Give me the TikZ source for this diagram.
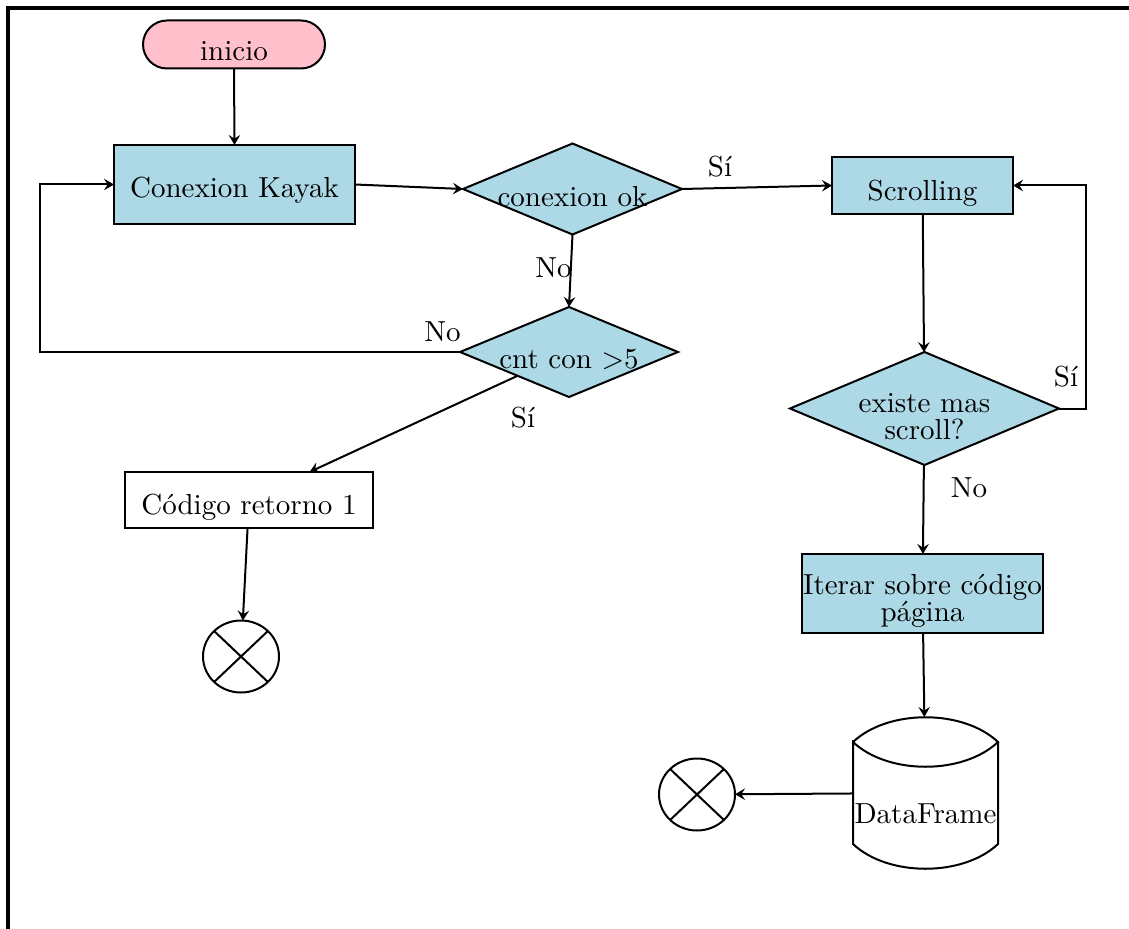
\documentclass[tikz,border=0pt]{standalone}
\usetikzlibrary{shapes.geometric,shapes.misc,calc,arrows.meta}
% one drawing unit = one pixel of the layout grid
\newlength\unitpx
\setlength\unitpx{0.35pt}
% text placed with its baseline a given number of units below the node centre
\newcommand\lowered[2]{\raisebox{-#1\unitpx}[0pt][0pt]{#2}}
% same, but taking no width, so the outline keeps its own size
\newcommand\loweredfree[2]{\makebox[0pt]{\lowered{#1}{#2}}}
\newcommand\twolines[2]{\begin{tabular}[b]{@{}c@{}}#1\\[-2.4pt]#2\end{tabular}}
\definecolor{startpink}{HTML}{FFC0CB}
\definecolor{procblue}{HTML}{ADD8E6}
\begin{document}
\begin{tikzpicture}[x=0.35pt,y=-0.35pt,
  every node/.style={inner sep=0pt, outer sep=0pt, font=\fontsize{10.15}{12}\selectfont},
  line/.style={line width=0.7pt},
  arr/.style={line, -{Stealth[length=3.5pt, width=4pt, inset=1.3pt]}},
  term/.style={rounded rectangle, draw, line, fill=startpink},
  proc/.style={rectangle, draw, line, fill=procblue},
  plainbox/.style={rectangle, draw, line, fill=white},
  decision/.style={diamond, draw, line, fill=procblue},
  endmark/.style={ellipse, draw, line, minimum width=76\unitpx, minimum height=72\unitpx,
    path picture={\draw[line]
      (path picture bounding box.north west) -- (path picture bounding box.south east)
      (path picture bounding box.north east) -- (path picture bounding box.south west);}},
  lbl/.style={anchor=base},
]
\useasboundingbox (0,0) rectangle (1129,929);

% outer frame
\draw[line width=4\unitpx] (8,940) -- (8,8) -- (1140,8);

% nodes
\node[term, minimum width=182\unitpx, minimum height=48\unitpx] (ini) at (234,44.5) {\lowered{16.5}{inicio}};
\node[proc, minimum width=241\unitpx, minimum height=79\unitpx] (ck) at (234.5,184.5) {\lowered{13.5}{Conexion Kayak}};
\node[decision, minimum width=219\unitpx, minimum height=91\unitpx] (d1) at (572.5,189) {\loweredfree{17}{conexion ok}};
\node[decision, minimum width=218\unitpx, minimum height=90\unitpx] (d2) at (569,352) {\loweredfree{16}{cnt con >5}};
\node[proc, minimum width=181\unitpx, minimum height=57\unitpx] (scr) at (922.5,185.5) {\lowered{15.5}{Scrolling}};
\node[decision, minimum width=269\unitpx, minimum height=113\unitpx] (d3) at (924.5,408.5) {\loweredfree{31}{\twolines{existe mas}{scroll?}}};
\node[plainbox, minimum width=248\unitpx, minimum height=56\unitpx] (cr) at (249,500) {\lowered{14}{Código retorno 1}};
\node[proc, minimum width=241\unitpx, minimum height=79\unitpx] (it) at (922.5,593.5) {\lowered{28}{\twolines{Iterar sobre código}{página}}};
\node[endmark] (e1) at (241,656.5) {};
\node[endmark] (e2) at (697,794.5) {};
\node[minimum width=145\unitpx, minimum height=152\unitpx] (df) at (925.5,793) {\lowered{30}{DataFrame}};

% stored-data outline around the DataFrame node
\coordinate (dfTL) at ($(df.north west)+(0,25)$);
\coordinate (dfTR) at ($(df.north east)+(0,25)$);
\coordinate (dfBL) at ($(df.south west)+(0,-25)$);
\coordinate (dfBR) at ($(df.south east)+(0,-25)$);
\draw[line] (dfTL) .. controls +(35,-33) and +(-35,-33) .. (dfTR)
  .. controls +(-35,33) and +(35,33) .. (dfTL) -- (dfBL)
  .. controls +(35,33) and +(-35,33) .. (dfBR) -- (dfTR);

% loop-back corners
\coordinate (loopL) at (40,270);
\coordinate (loopR) at (1086,300);

% connectors
\draw[arr] (ini.south) -- (ck.north);
\draw[arr] (ck.east) -- (d1.west);
\draw[arr] (d1.east) -- (scr.west);
\draw[arr] (d1.south) -- (d2.north);
\draw[arr] (d2.west) -| (loopL) |- (ck.west);
\draw[arr] (d2) -- (cr);
\draw[arr] (cr) -- (e1);
\draw[arr] (scr) -- (d3);
\draw[arr] (d3.east) -| (loopR) |- (scr.east);
\draw[arr] (d3) -- (it);
\draw[arr] (it) -- (df);
\draw[arr] (df) -- (e2);

% branch labels
\node[lbl] (l1) at (720,177) {Sí};
\node[lbl] (l2) at (553.5,277) {No};
\node[lbl] (l3) at (442.5,341) {No};
\node[lbl] (l4) at (523,427) {Sí};
\node[lbl] (l5) at (1066,386) {Sí};
\node[lbl] (l6) at (969,497) {No};
\end{tikzpicture}
\end{document}
